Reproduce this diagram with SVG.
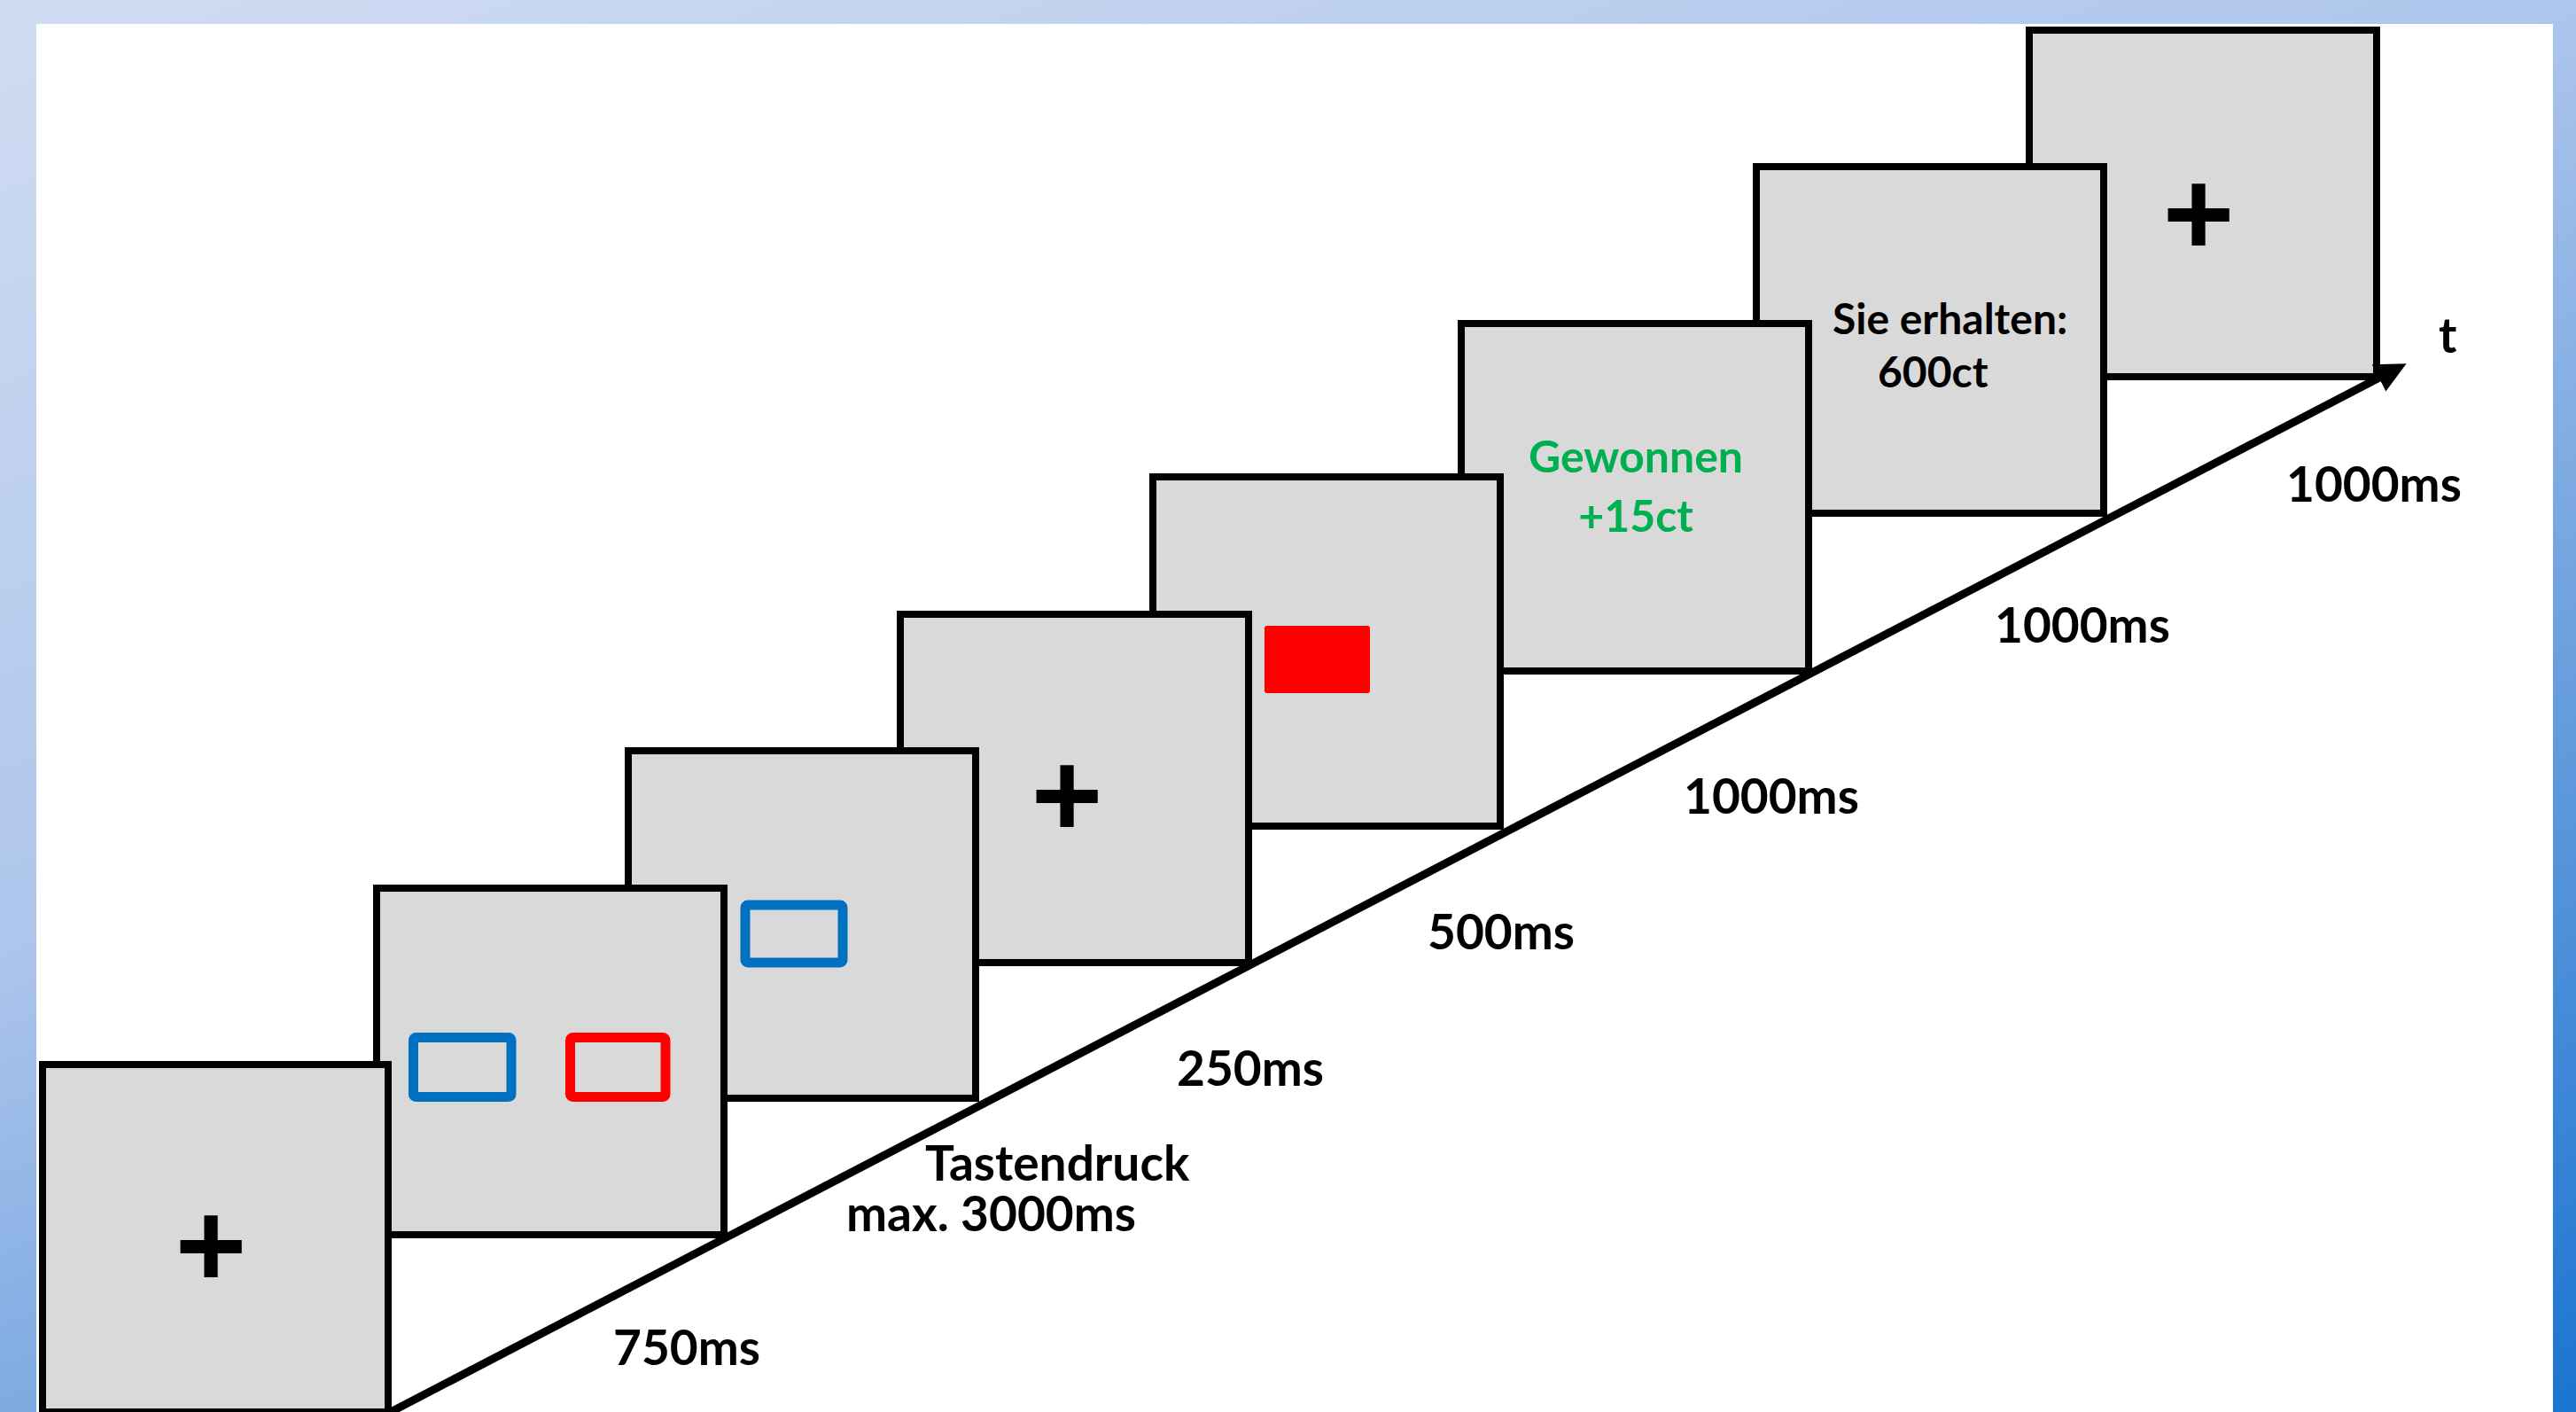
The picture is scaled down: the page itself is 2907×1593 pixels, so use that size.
<svg xmlns="http://www.w3.org/2000/svg" width="2907" height="1593" viewBox="0 0 2907 1593">
<defs>
<linearGradient id="bg" gradientUnits="userSpaceOnUse" x1="0" y1="0" x2="855" y2="2343">
<stop offset="0" stop-color="#d0dcf2"/>
<stop offset="0.4" stop-color="#aec6ec"/>
<stop offset="0.6" stop-color="#7eaae2"/>
<stop offset="1" stop-color="#1a74d0"/>
</linearGradient>
<marker id="arrow" markerUnits="userSpaceOnUse" markerWidth="36" markerHeight="36" refX="5" refY="17" orient="auto">
<path d="M0,0 L35,17 L0,34 z" fill="#000"/>
</marker>
<style>
.screen{fill:#d9d9d9;stroke:#000;stroke-width:8;stroke-linejoin:miter}
.cross{font-family:"Liberation Sans",Arial,sans-serif;font-weight:bold;font-size:138px;fill:#000;text-anchor:middle}
.lbl{font-family:Lato,"Liberation Sans",sans-serif;font-weight:bold;font-size:55px;fill:#000}
.txt{font-family:Lato,"Liberation Sans",sans-serif;font-weight:bold;font-size:48px;fill:#000}
.win{fill:#00b050;text-anchor:middle;font-size:50px}
.blue{fill:none;stroke:#0070c0;stroke-width:11}
.red{fill:none;stroke:#ff0000;stroke-width:11}
</style>
</defs>
<rect x="0" y="0" width="2907" height="1593" fill="url(#bg)"/>
<rect x="41" y="27" width="2840" height="1570" fill="#fff"/>

<g id="screen8">
<rect class="screen" x="2290" y="34" width="392" height="391"/>
<text class="cross" x="2481" y="288">+</text>
</g>
<g id="screen7">
<rect class="screen" x="1982" y="188" width="392" height="391"/>
<text class="txt" x="2068" y="377">Sie erhalten:</text>
<text class="txt" x="2119" y="437">600ct</text>
</g>
<g id="screen6">
<rect class="screen" x="1649" y="365" width="392" height="392"/>
<text class="txt win" x="1846" y="533">Gewonnen</text>
<text class="txt win" x="1846" y="600">+15ct</text>
</g>
<g id="screen5">
<rect class="screen" x="1301" y="538" width="392" height="394"/>
<rect x="1427" y="706" width="119" height="76" rx="3" fill="#ff0000"/>
</g>
<g id="screen4">
<rect class="screen" x="1016" y="693" width="393" height="393"/>
<text class="cross" x="1204" y="944">+</text>
</g>
<g id="screen3">
<rect class="screen" x="709" y="847" width="392" height="392"/>
<rect class="blue" x="841" y="1021" width="110" height="65" rx="3"/>
</g>
<g id="screen2">
<rect class="screen" x="425" y="1002" width="392" height="391"/>
<rect class="blue" x="466.5" y="1170.5" width="110.5" height="67" rx="3"/>
<rect class="red" x="643.5" y="1170.5" width="107.5" height="67" rx="3"/>
</g>
<g id="screen1">
<rect class="screen" x="48" y="1201" width="390" height="392"/>
<text class="cross" x="238" y="1452">+</text>
</g>

<g id="connectors">
<line x1="437" y1="1595" x2="2689" y2="424" stroke="#000" stroke-width="9" marker-end="url(#arrow)"/>
</g>

<g id="labels">
<text class="lbl" x="692" y="1540">750ms</text>
<text class="lbl" x="1044" y="1332">Tastendruck</text>
<text class="lbl" x="955" y="1389">max. 3000ms</text>
<text class="lbl" x="1328" y="1225">250ms</text>
<text class="lbl" x="1611" y="1071">500ms</text>
<text class="lbl" x="1900" y="918">1000ms</text>
<text class="lbl" x="2251" y="725">1000ms</text>
<text class="lbl" x="2580" y="566">1000ms</text>
<text class="lbl" x="2752" y="398">t</text>
</g>
</svg>
